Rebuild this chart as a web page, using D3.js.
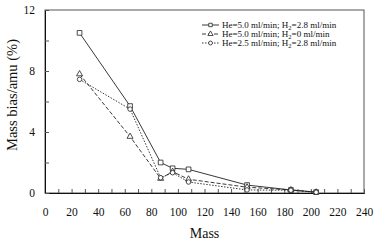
<!DOCTYPE html>
<html>
<head>
<meta charset="utf-8">
<script src="https://cdn.jsdelivr.net/npm/d3@7"></script>
<style>
  body { margin: 0; background: #fff; }
  text { font-family: "Liberation Serif", "Times New Roman", serif; fill: #111; }
</style>
</head>
<body>
<svg id="chart" width="377" height="243"></svg>
<script>
"use strict";

var masses = [26, 64, 87, 96, 108, 152, 185, 204],
    biasH28 = [10.5, 5.7, 2.0, 1.62, 1.55, 0.52, 0.2, 0.06],
    biasH0 = [7.8, 3.7, 0.95, 1.4, 0.9, 0.38, 0.2, 0.05],
    biasHe25 = [7.45, 5.5, 1.0, 1.33, 0.72, 0.2, 0.18, 0.05],
    seriesNames = ["He=5.0 ml/min; H", "He=5.0 ml/min; H", "He=2.5 ml/min; H"],
    seriesTails = ["=2.8 ml/min", "=0 ml/min", "=2.8 ml/min"],
    yTicks = [0, 4, 8, 12];

var margin = {left: 45, top: 10, right: 13, bottom: 50},
    width = 377 - margin.left - margin.right,
    height = 243 - margin.top - margin.bottom;

var svg = d3.select("#chart"),
    g = svg.append("g").attr("transform", "translate(" + margin.left + "," + margin.top + ")");

var x = d3.scaleLinear().domain([0, 240]).range([0, width]),
    y = d3.scaleLinear().domain([0, 12]).range([height, 0]);

// frame
g.append("rect")
    .attr("width", width).attr("height", height)
    .attr("fill", "none").attr("stroke", "#555").attr("stroke-width", 1);

// x axis: labels every 20, ticks every 10, pointing inward
var xAxis = g.append("g").attr("transform", "translate(0," + height + ")")
    .call(d3.axisBottom(x).tickValues(d3.range(0, 241, 10)).tickSize(-4)
          .tickFormat(function(d) { return d % 20 === 0 ? d : ""; }).tickPadding(15));
xAxis.select(".domain").attr("stroke", "#111");
xAxis.selectAll("line").attr("stroke", "#555");
xAxis.selectAll("text").style("font-size", "11.5px").style("font-family", "Liberation Serif");

var yAxis = g.append("g")
    .call(d3.axisLeft(y).tickValues(d3.range(0, 13, 2)).tickSize(-4)
          .tickFormat(function(d) { return yTicks.indexOf(d) >= 0 ? d : ""; }).tickPadding(10));
yAxis.select(".domain").attr("stroke", "#111");
yAxis.selectAll("line").attr("stroke", "#555");
yAxis.selectAll("text").style("font-size", "11.5px").style("font-family", "Liberation Serif");

// axis titles
svg.append("text")
    .attr("x", margin.left + x(120)).attr("y", 238)
    .attr("text-anchor", "middle")
    .style("font-size", "14px")
    .text("Mass");

svg.append("text")
    .attr("transform", "translate(17,95) rotate(-90)")
    .attr("text-anchor", "middle")
    .style("font-size", "14.5px")
    .text("Mass bias/amu (%)");

var series = [
    {values: biasH28, dash: null, shape: "square"},
    {values: biasH0, dash: "4,2", shape: "triangle"},
    {values: biasHe25, dash: "1.5,1.5", shape: "circle"}
];

var line = d3.line()
    .x(function(d) { return x(d[0]); })
    .y(function(d) { return y(d[1]); });

var symbolType = {
    square: d3.symbolSquare,
    triangle: d3.symbolTriangle,
    circle: d3.symbolCircle
};

series.forEach(function(s) {
    var pts = masses.map(function(m, i) { return [m, s.values[i]]; });
    g.append("path")
        .datum(pts)
        .attr("d", line)
        .attr("fill", "none")
        .attr("stroke", "#222")
        .attr("stroke-width", 0.9)
        .attr("stroke-dasharray", s.dash);
    g.selectAll(null)
        .data(pts)
        .enter().append("path")
        .attr("transform", function(d) { return "translate(" + x(d[0]) + "," + y(d[1]) + ")"; })
        .attr("d", d3.symbol().type(symbolType[s.shape]).size(s.shape === "square" ? 22 : 16))
        .attr("fill", "#fff")
        .attr("stroke", "#222")
        .attr("stroke-width", 0.8);
});

// legend
var legend = svg.append("g").attr("transform", "translate(202,25)");
series.forEach(function(s, i) {
    var row = legend.append("g").attr("transform", "translate(0," + (i * 9) + ")");
    row.append("line")
        .attr("x1", 0).attr("x2", 17)
        .attr("stroke", "#222").attr("stroke-width", 0.9)
        .attr("stroke-dasharray", s.dash);
    row.append("path")
        .attr("transform", "translate(8.5,0)")
        .attr("d", d3.symbol().type(symbolType[s.shape]).size(12))
        .attr("fill", "#fff").attr("stroke", "#222").attr("stroke-width", 0.8);
    var t = row.append("text")
        .attr("x", 20).attr("y", 3)
        .style("font-size", "9px");
    t.append("tspan").text(seriesNames[i]);
    t.append("tspan").attr("dy", 2).style("font-size", "6.5px").text("2");
    t.append("tspan").attr("dy", -2).text(seriesTails[i]);
});
</script>
</body>
</html>
